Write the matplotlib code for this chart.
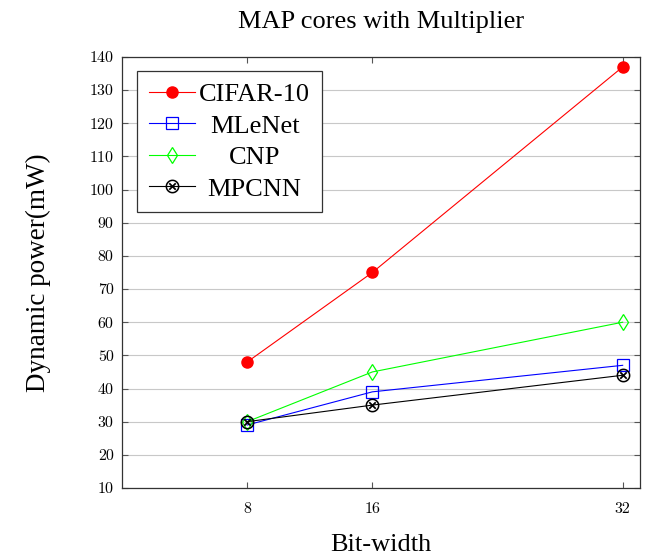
import matplotlib
matplotlib.use("Agg")
import matplotlib.pyplot as plt

bit_width = [8, 16, 32]
cifar10 = [48, 75, 137]
mlenet = [29, 39, 47]
cnp = [30, 45, 60]
mpcnn = [30, 35, 44]
labels = ["CIFAR-10", "MLeNet", "CNP", "MPCNN"]

serif = "Liberation Serif"

fig = plt.figure(figsize=(6.47, 5.57), dpi=100)
ax = fig.add_axes([0.1886, 0.1239, 0.8004, 0.7738])

ax.plot(bit_width, cifar10, color="red", lw=0.8, marker="o", ms=8, label=labels[0])
ax.plot(bit_width, mlenet, color="blue", lw=0.8, marker="s", ms=8, mfc="none", mew=0.9, label=labels[1])
ax.plot(bit_width, cnp, color="lime", lw=0.8, marker="d", ms=8, mfc="none", mew=0.9, label=labels[2])
ax.plot(bit_width, mpcnn, color="black", lw=0.8, marker=r"$\otimes$", ms=10, mew=0, label=labels[3])

ax.set_xlim(0, 33.1)
ax.set_ylim(10, 140)
ax.set_xticks(bit_width)
ax.set_yticks(range(10, 141, 10))
ax.yaxis.grid(True, color="#c8c8c8", lw=0.8)
ax.set_axisbelow(True)
ax.tick_params(direction="in", top=True, right=True, length=4, color="#555555",
               labelsize=11.5, labelfontfamily="cmr10")
for s in ax.spines.values():
    s.set_color("#333333")
    s.set_linewidth(0.9)
ax.tick_params(axis="x", pad=10)
ax.tick_params(axis="y", pad=6)

ax.set_title("MAP cores with Multiplier", fontsize=19, fontfamily=serif, pad=21)
ax.set_xlabel("Bit-width", fontsize=19, fontfamily=serif, labelpad=13)
ax.set_ylabel("Dynamic power(mW)", fontsize=19.5, fontfamily=serif, labelpad=28)

leg = ax.legend(loc="upper left", bbox_to_anchor=(0.029, 0.9675), borderaxespad=0, fancybox=False,
                edgecolor="#333333", framealpha=1, prop={"family": serif, "size": 19},
                handlelength=1.75, handletextpad=0.15, borderpad=0.45, labelspacing=0.3)
leg.get_frame().set_linewidth(0.9)

# centre the legend labels inside the box
fig.canvas.draw()
r = fig.canvas.get_renderer()
texts = leg.get_texts()
boxes = [t.get_window_extent(r) for t in texts]
cx = (min(b.x0 for b in boxes) + max(b.x1 for b in boxes)) / 2
for t, b in zip(texts, boxes):
    t.set_alpha(0)
    fig.text(cx / fig.bbox.width, (b.y0 + b.y1) / 2 / fig.bbox.height, t.get_text(),
             ha="center", va="center", fontsize=19, fontfamily=serif)

fig.savefig("out.png", dpi=100)
